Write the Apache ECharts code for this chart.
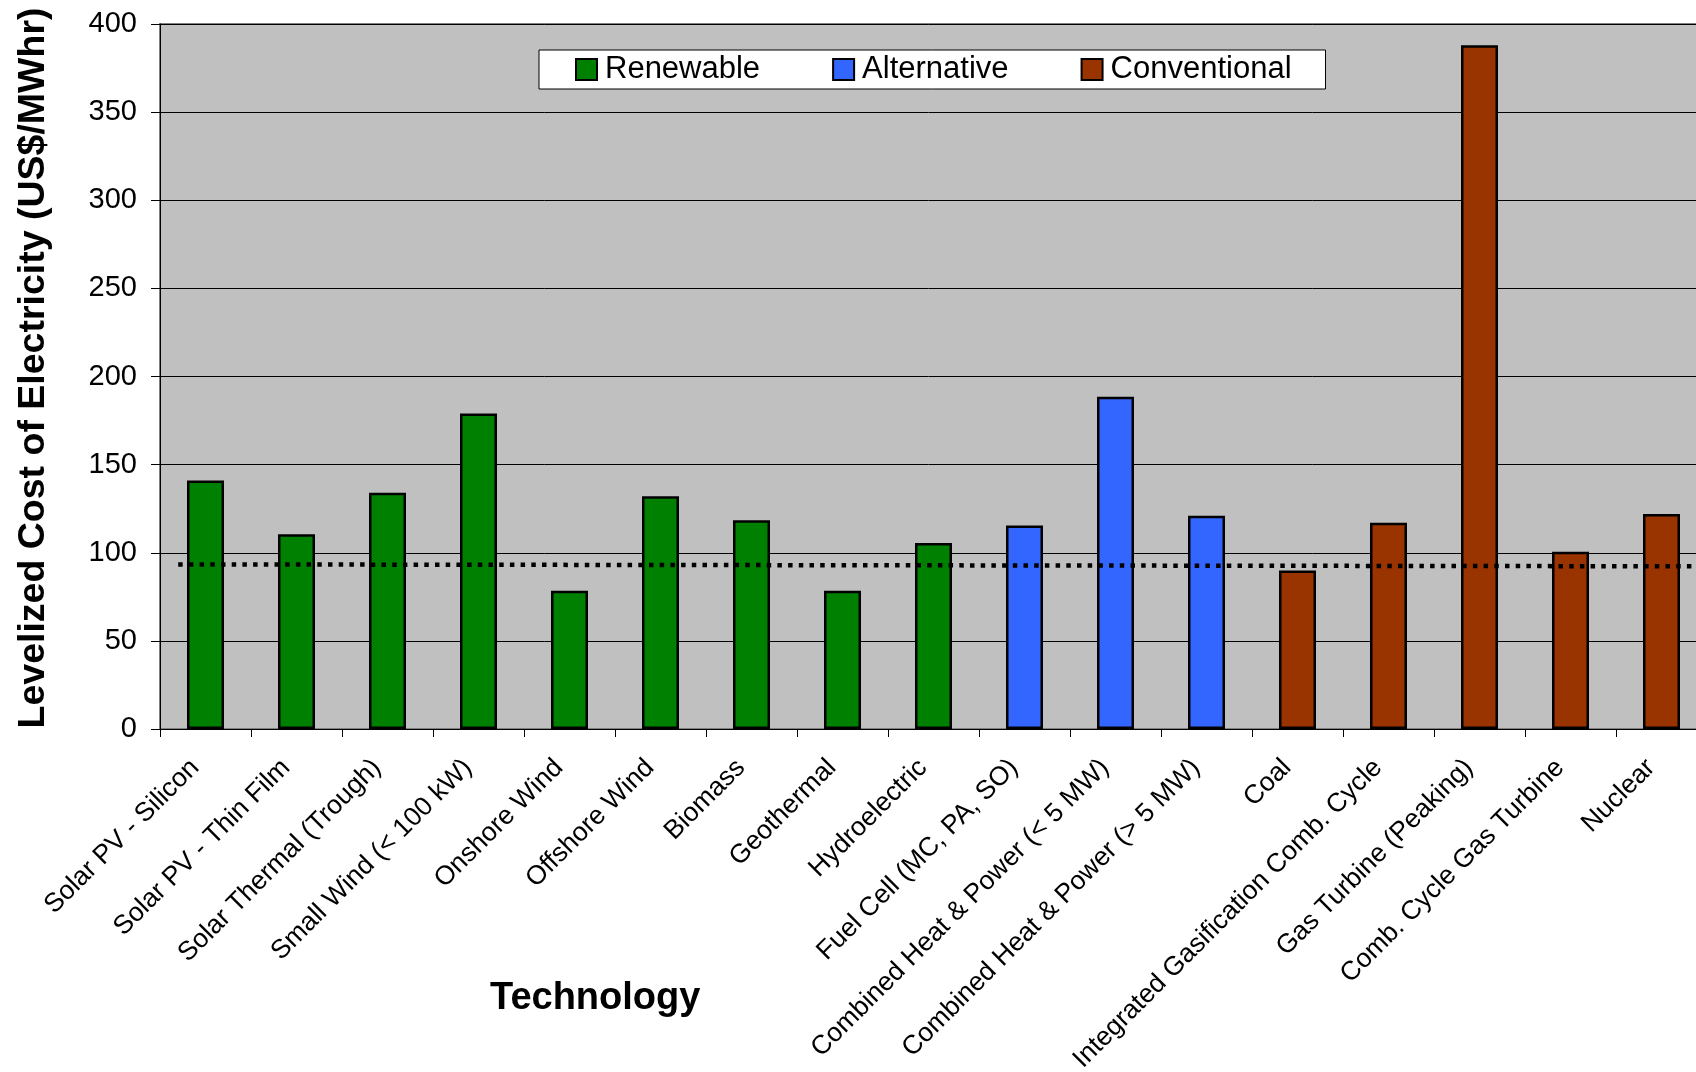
<!DOCTYPE html>
<html>
<head>
<meta charset="utf-8">
<script src="https://cdn.jsdelivr.net/npm/echarts@6/dist/echarts.min.js"></script>
<style>
  html, body { margin: 0; padding: 0; background: #ffffff; }
  #chart { width: 1696px; height: 1072px; }
</style>
</head>
<body>
<div id="chart"></div>
<script>
// Technologies, grouped: renewable, alternative, conventional
const categories = [
  'Solar PV - Silicon', 'Solar PV - Thin Film', 'Solar Thermal (Trough)',
  'Small Wind (< 100 kW)', 'Onshore Wind', 'Offshore Wind', 'Biomass',
  'Geothermal', 'Hydroelectric',
  'Fuel Cell (MC, PA, SO)', 'Combined Heat & Power (< 5 MW)', 'Combined Heat & Power (> 5 MW)',
  'Coal', 'Integrated Gasification Comb. Cycle', 'Gas Turbine (Peaking)',
  'Comb. Cycle Gas Turbine', 'Nuclear'
];

// Levelized cost of electricity, US$/MWhr
const renewableCost = [141, 110.5, 134, 179, 78.5, 132, 118.5, 78.5, 105.5];
const alternativeCost = [115.5, 188.5, 121];
const conventionalCost = [90, 117, 388, 100.5, 122];

// Dotted reference level: [position along category axis, cost]
const referenceLine = [[0.2, 93.4], [17, 92.3]];

const yTicks = { min: 0, max: 400, interval: 50 };

const FONT = "'Liberation Sans', Arial, Helvetica, sans-serif";

// Place each group's values at its own categories, leaving the rest empty
function placeGroup(values, offset) {
  return categories.map((_, i) => {
    const k = i - offset;
    return (k >= 0 && k < values.length) ? values[k] : '-';
  });
}

const groups = [
  { name: 'Renewable', color: '#008000', values: renewableCost, offset: 0 },
  { name: 'Alternative', color: '#3366FF', values: alternativeCost, offset: renewableCost.length },
  { name: 'Conventional', color: '#993300', values: conventionalCost, offset: renewableCost.length + alternativeCost.length }
];

const barSeries = groups.map(g => ({
  name: g.name,
  type: 'bar',
  stack: 'tech',
  barWidth: 37,
  data: placeGroup(g.values, g.offset),
  itemStyle: { color: g.color, borderColor: '#000000', borderWidth: 2.5 },
  emphasis: { disabled: true }
}));

const chart = echarts.init(document.getElementById('chart'), null, { renderer: 'canvas' });

chart.setOption({
  animation: false,
  backgroundColor: '#ffffff',
  textStyle: { fontFamily: FONT },
  grid: {
    left: 160, top: 24, right: -11, bottom: 343,
    outerBoundsMode: 'none',
    containLabel: false,
    show: true,
    backgroundColor: '#C0C0C0',
    borderColor: '#808080',
    borderWidth: 2
  },
  legend: {
    data: groups.map(g => g.name),
    left: 539,
    top: 50,
    padding: [4, 34, 4, 36],
    itemGap: 72,
    itemWidth: 21,
    itemHeight: 21,
    backgroundColor: '#ffffff',
    borderColor: '#000000',
    borderWidth: 1,
    borderRadius: 0,
    icon: 'rect',
    textStyle: { fontFamily: FONT, fontSize: 31, color: '#000000', padding: [0, 0, 0, 3] }
  },
  xAxis: [
    {
      type: 'category',
      data: categories,
      boundaryGap: true,
      axisLine: { lineStyle: { color: '#000000', width: 1 } },
      axisTick: { show: true, length: 8, interval: 0, lineStyle: { color: '#000000' } },
      axisLabel: {
        interval: 0,
        rotate: 45,
        margin: 24,
        padding: [0, 15, 0, 0],
        fontFamily: FONT,
        fontSize: 26.5,
        color: '#000000'
      },
      splitLine: { show: false }
    },
    {
      type: 'value',
      min: 0,
      max: categories.length,
      show: false
    }
  ],
  yAxis: {
    type: 'value',
    min: yTicks.min,
    max: yTicks.max,
    interval: yTicks.interval,
    name: 'Levelized Cost of Electricity (US$/MWhr)',
    nameLocation: 'middle',
    nameGap: 107,
    nameTextStyle: {
      fontFamily: FONT, fontSize: 37.5, fontWeight: 'bold', color: '#000000',
      padding: [0, 0, 0, 17]
    },
    axisLine: { show: true, lineStyle: { color: '#000000', width: 1 } },
    axisTick: { show: true, length: 9, lineStyle: { color: '#000000' } },
    axisLabel: { margin: 23, fontFamily: FONT, fontSize: 29, color: '#000000' },
    splitLine: { show: true, lineStyle: { color: '#000000', width: 1 } }
  },
  series: barSeries.concat([{
    name: 'reference',
    type: 'line',
    xAxisIndex: 1,
    yAxisIndex: 0,
    data: referenceLine,
    symbol: 'none',
    z: 5,
    lineStyle: { color: '#000000', width: 4.5, type: [4.5, 6.2], cap: 'butt' },
    emphasis: { disabled: true }
  }]),
  graphic: [{
    type: 'text',
    left: 490,
    top: 980,
    style: {
      text: 'Technology',
      fontFamily: FONT,
      fontSize: 38,
      fontWeight: 'bold',
      fill: '#000000'
    }
  }]
});
</script>
</body>
</html>
